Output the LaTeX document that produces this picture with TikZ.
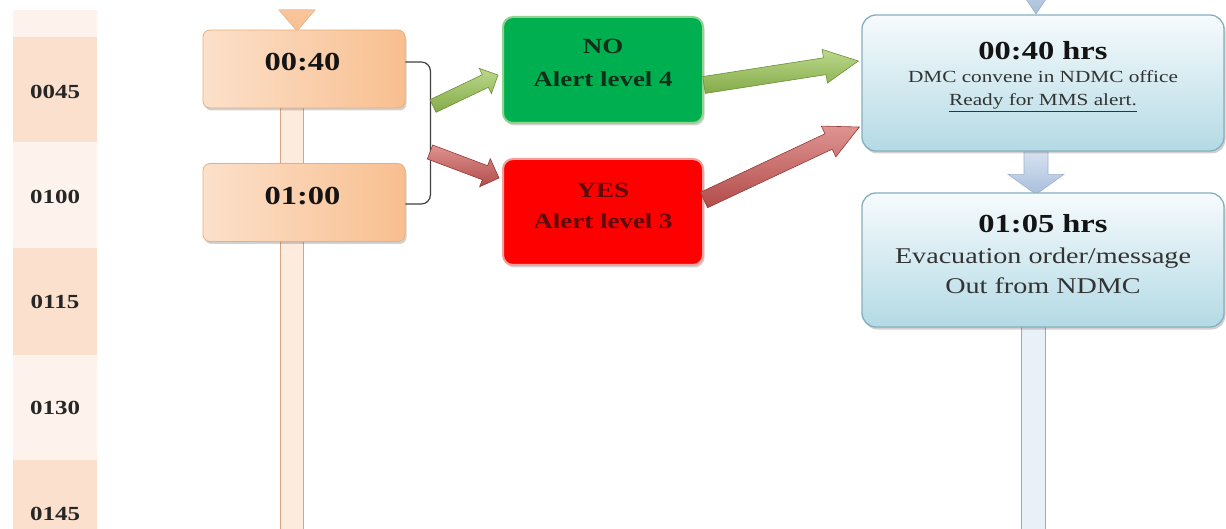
\documentclass[tikz,border=0pt]{standalone}
\usepackage{fontspec}
\setmainfont[FakeStretch=1.25]{Liberation Serif}
\usetikzlibrary{calc,shadows}
\pgfdeclarelayer{bg}
\pgfsetlayers{bg,main}
\definecolor{colDark}{HTML}{FBE0CE}
\definecolor{colLight}{HTML}{FEF3EC}
\definecolor{oLight}{HTML}{FCE0CA}
\definecolor{oDark}{HTML}{F8BF90}
\definecolor{oBorder}{HTML}{EAAE7A}
\definecolor{barFill}{HTML}{FDEBDD}
\definecolor{barEdge}{HTML}{D9A27C}
\definecolor{gFill}{HTML}{00B050}
\definecolor{gBorder}{HTML}{93D38F}
\definecolor{gText}{HTML}{10301A}
\definecolor{rFill}{HTML}{FF0000}
\definecolor{rBorder}{HTML}{F4A19B}
\definecolor{rText}{HTML}{5C0A0A}
\definecolor{bTop}{HTML}{F6FBFD}
\definecolor{bBottom}{HTML}{B4DAE5}
\definecolor{bBorder}{HTML}{86AFBE}
\definecolor{gaTop}{HTML}{BCD98C}
\definecolor{gaBot}{HTML}{84AA48}
\definecolor{gaEdge}{HTML}{6A8F35}
\definecolor{raTop}{HTML}{DE9492}
\definecolor{raBot}{HTML}{B24C4A}
\definecolor{raEdge}{HTML}{953836}
\definecolor{baTop}{HTML}{DDE7F3}
\definecolor{baBot}{HTML}{A9BEDB}
\definecolor{baEdge}{HTML}{9DB0CC}
\definecolor{bbFill}{HTML}{EAF0F8}
\definecolor{bbEdge}{HTML}{9AA8C2}
% block arrow: #1 name, #2 style, #3 tail, #4 tip, #5 half shaft, #6 half head, #7 head length
\newcommand\blkarrow[7]{%
  \coordinate (#1-h) at ($(#4)!#7!(#3)$);
  \path[#2] ($(#3)!#5!90:(#4)$) -- ($(#1-h)!#5!90:(#4)$) -- ($(#1-h)!#6!90:(#4)$)
    -- (#4) -- ($(#1-h)!#6!-90:(#4)$) -- ($(#1-h)!#5!-90:(#4)$) -- ($(#3)!#5!-90:(#4)$) -- cycle;
}
\tikzset{
  boxshadow/.style={drop shadow={shadow xshift=1.5pt,shadow yshift=-2.5pt,opacity=0.3,fill=black!60}},
  obox/.style={draw=oBorder,line width=0.8pt,rounded corners=7pt,left color=oLight,right color=oDark,
    minimum width=202pt,minimum height=78pt,inner sep=0pt,boxshadow},
  gbox/.style={draw=gBorder,line width=2pt,rounded corners=10pt,fill=gFill,
    minimum width=200pt,minimum height=106pt,inner sep=0pt,boxshadow},
  rbox/.style={draw=rBorder,line width=2pt,rounded corners=10pt,fill=rFill,
    minimum width=200pt,minimum height=106pt,inner sep=0pt,boxshadow},
  bluebox/.style={draw=bBorder,line width=1.3pt,rounded corners=14pt,top color=bTop,bottom color=bBottom,
    minimum width=362pt,inner sep=0pt,boxshadow},
  txt/.style={inner sep=0pt,anchor=base},
  otext/.style={txt,font=\fontsize{26}{30}\selectfont\bfseries,text=black!92},
  tlab/.style={txt,font=\fontsize{20}{24}\selectfont\bfseries,text=black!85},
  gtext/.style={txt,font=\fontsize{21.6}{26}\selectfont\bfseries,text=gText},
  rtext/.style={txt,font=\fontsize{21.6}{26}\selectfont\bfseries,text=rText},
  btitle/.style={txt,font=\fontsize{26}{30}\selectfont\bfseries,text=black!92},
  bsmall/.style={txt,font=\fontsize{17}{20}\selectfont,text=black!80},
  bbig/.style={txt,font=\fontsize{22.5}{27}\selectfont,text=black!80},
  garrow/.style={top color=gaTop,bottom color=gaBot,draw=gaEdge,line width=0.6pt},
  rarrow/.style={top color=raTop,bottom color=raBot,draw=raEdge,line width=0.6pt},
  barrow/.style={top color=baTop,bottom color=baBot,draw=baEdge,line width=0.6pt},
  brace/.style={draw=black!75,line width=1.2pt,rounded corners=9pt},
}
\begin{document}
\begin{tikzpicture}[x=1pt,y=-1pt]
\useasboundingbox (0,0) rectangle (1226,529);
\clip (0,0) rectangle (1226,529);
% left time column
\fill[colLight] (13,10) rectangle (97,37);
\fill[colDark] (13,37) rectangle (97,142);
\fill[colLight] (13,142) rectangle (97,248);
\fill[colDark] (13,248) rectangle (97,355);
\fill[colLight] (13,355) rectangle (97,460);
\fill[colDark] (13,460) rectangle (97,529);
\node[tlab] (l1) at (55,98.8) {0045};
\node[tlab] (l2) at (55,203.8) {0100};
\node[tlab] (l3) at (55,308.8) {0115};
\node[tlab] (l4) at (55,414.8) {0130};
\node[tlab] (l5) at (55,520.8) {0145};
% orange timeline bar and top arrow head
\fill[barFill] (280,100) rectangle (304,535);
\draw[barEdge,line width=1pt] (280.5,100) -- (280.5,535) (303.5,100) -- (303.5,535);
\fill[top color=oDark!80!oLight,bottom color=oDark,draw=oBorder!80,line width=0.5pt] (279,10) -- (315,10) -- (297,31) -- cycle;
% blue bar below second blue box
\fill[bbFill] (1021,320) rectangle (1046,535);
\draw[bbEdge,line width=1.3pt] (1021.5,320) -- (1021.5,535) (1045.5,320) -- (1045.5,535);
% orange boxes
\node[obox] (o1) at (304,69) {};
\node[obox] (o2) at (304,202.5) {};
\node[otext] (o1t) at (302.5,70.8) {00:40};
\node[otext] (o2t) at (302.5,204.8) {01:00};
% bracket
\draw[brace] ([yshift=7pt]o1.east) -- ++(25,0) |- ([yshift=-1.5pt]o2.east);
% arrows from bracket
\coordinate (gt1) at (433,106);
\coordinate (gtip1) at (498,75);
\coordinate (rt1) at (430,152);
\coordinate (rtip1) at (499,178);
\blkarrow{ga1}{garrow}{gt1}{gtip1}{7pt}{14pt}{14pt}
\blkarrow{ra1}{rarrow}{rt1}{rtip1}{7.5pt}{15pt}{15pt}
% decision boxes
\node[gbox] (no) at (603,70) {};
\node[rbox] (yes) at (603,212) {};
\node[gtext] (not1) at (603,53.3) {NO};
\node[gtext] (not2) at (603,86.3) {Alert level 4};
\node[rtext] (yest1) at (603,197.3) {YES};
\node[rtext] (yest2) at (603,228.3) {Alert level 3};
% blue boxes
\node[bluebox,minimum height=136pt] (b1) at (1043,83) {};
\node[bluebox,minimum height=134pt] (b2) at (1043,260) {};
% arrows to blue box
\coordinate (gt2) at ([yshift=-15pt]no.east);
\coordinate (gtip2) at ([xshift=-3pt,yshift=22pt]b1.west);
\coordinate (rt2) at ([yshift=12pt]yes.east);
\coordinate (rtip2) at ([xshift=-2pt,yshift=-44pt]b1.west);
\blkarrow{ga2}{garrow}{gt2}{gtip2}{8.5pt}{17pt}{34pt}
\blkarrow{ra2}{rarrow}{rt2}{rtip2}{8.5pt}{17pt}{34pt}
% blue down arrows
\coordinate (bat0) at (1036,-40);
\coordinate (batip0) at (1036,14);
\blkarrow{ba0}{barrow}{bat0}{batip0}{8pt}{14pt}{21pt}
\coordinate (bat1) at ([xshift=-7pt,yshift=6pt]b1.south);
\coordinate (batip1) at ([xshift=-7pt,yshift=-2pt]b2.north);
\begin{pgfonlayer}{bg}
\blkarrow{ba1}{barrow}{bat1}{batip1}{12pt}{28pt}{20pt}
\end{pgfonlayer}
% blue box texts
\node[btitle] (b1t1) at (1043,59.8) {00:40 hrs};
\node[bsmall] (b1t2) at (1043,83) {DMC convene in NDMC office};
\node[bsmall] (b1t3) at (1043,106) {\underline{Ready for MMS alert.}};
\node[btitle] (b2t1) at (1043,233) {01:05 hrs};
\node[bbig] (b2t2) at (1043,264) {Evacuation order/message};
\node[bbig] (b2t3) at (1043,294) {Out from NDMC};
\end{tikzpicture}
\end{document}
